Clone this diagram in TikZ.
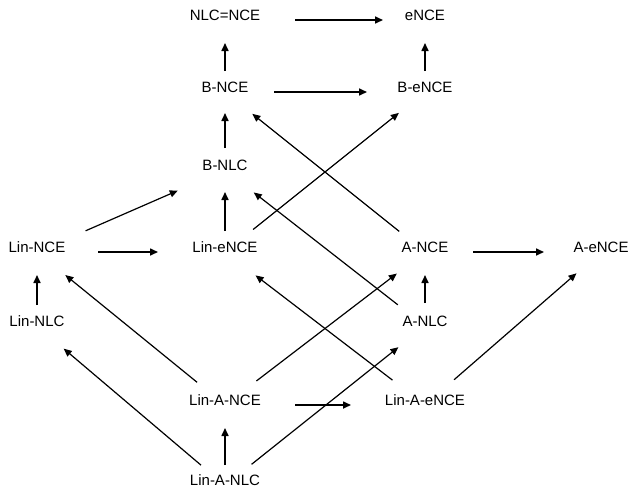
\documentclass[tikz,border=0pt]{standalone}
\usepackage{fontspec}
\setmainfont{Liberation Sans}
\usetikzlibrary{arrows.meta}
\begin{document}
\begin{tikzpicture}[x=1pt,y=-1pt,
  lbl/.style={font=\fontsize{15}{18}\selectfont, inner sep=0pt,
              text height=10.7pt, text depth=10pt},
  link/.style={-{Triangle[length=8pt,width=7pt]}, line width=1.6pt},
  slant/.style={link, line width=1.2pt}]
\useasboundingbox (0,0) rectangle (632,488);

% classes
\node[lbl] (nce)      at (225,20)    {NLC=NCE};
\node[lbl] (ence)     at (425,20)    {eNCE};
\node[lbl] (bnce)     at (225,92)    {B-NCE};
\node[lbl] (bence)    at (425,92)    {B-eNCE};
\node[lbl] (bnlc)     at (225,170)   {B-NLC};
\node[lbl] (linnce)   at (37,252)    {Lin-NCE};
\node[lbl] (linence)  at (225,252)   {Lin-eNCE};
\node[lbl] (ance)     at (425,252)   {A-NCE};
\node[lbl] (aence)    at (601,252)   {A-eNCE};
\node[lbl] (linnlc)   at (37,326)    {Lin-NLC};
\node[lbl] (anlc)     at (425,326)   {A-NLC};
\node[lbl] (linance)  at (225,405)   {Lin-A-NCE};
\node[lbl] (linaence) at (425,405)   {Lin-A-eNCE};
\node[lbl] (linanlc)  at (225,485.5) {Lin-A-NLC};

% horizontal inclusions
\draw[link, shorten <=70pt, shorten >=42pt] (nce.center) -- (ence.center);
\draw[link, shorten <=49pt, shorten >=58pt] (bnce.center) -- (bence.center);
\draw[link, shorten <=61pt, shorten >=67pt] (linnce.center) -- (linence.center);
\draw[link, shorten <=48pt, shorten >=57pt] (ance.center) -- (aence.center);
\draw[link, shorten <=70pt, shorten >=74pt] (linance.center) -- (linaence.center);

% vertical inclusions
\draw[link, shorten <=21pt, shorten >=23pt] (bnce.center) -- (nce.center);
\draw[link, shorten <=21pt, shorten >=23pt] (bence.center) -- (ence.center);
\draw[link, shorten <=22pt, shorten >=21pt] (bnlc.center) -- (bnce.center);
\draw[link, shorten <=21pt, shorten >=22pt] (linence.center) -- (bnlc.center);
\draw[link, shorten <=23pt, shorten >=23pt] (anlc.center) -- (ance.center);
\draw[link, shorten <=21pt, shorten >=23pt] (linnlc.center) -- (linnce.center);
\draw[link, shorten <=20.5pt, shorten >=23pt] (linanlc.center) -- (linance.center);

% slanted inclusions
\draw[slant, shorten <=53pt, shorten >=51.5pt] (linnce.center) -- (bnlc.center);
\draw[slant, shorten <=36pt, shorten >=33.5pt] (linence.center) -- (bence.center);
\draw[slant, shorten <=33pt, shorten >=35pt] (ance.center) -- (bnce.center);
\draw[slant, shorten <=34.5pt, shorten >=36.5pt] (anlc.center) -- (bnlc.center);
\draw[slant, shorten <=38.5pt, shorten >=32.5pt] (linaence.center) -- (aence.center);
\draw[slant, shorten <=39.5pt, shorten >=35.5pt] (linance.center) -- (ance.center);
\draw[slant, shorten <=34pt, shorten >=34pt] (linanlc.center) -- (anlc.center);
\draw[slant, shorten <=41pt, shorten >=38.5pt] (linaence.center) -- (linence.center);
\draw[slant, shorten <=36pt, shorten >=36.5pt] (linance.center) -- (linnce.center);
\draw[slant, shorten <=31.5pt, shorten >=35pt] (linanlc.center) -- (linnlc.center);
\end{tikzpicture}
\end{document}
